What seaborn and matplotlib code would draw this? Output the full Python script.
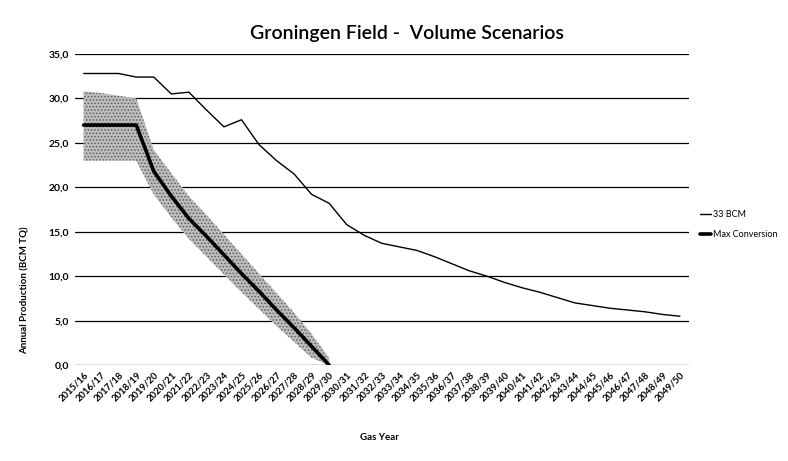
import matplotlib
matplotlib.use("Agg")
import matplotlib.pyplot as plt
import numpy as np
import pandas as pd
import seaborn as sns

# gas years on the x axis
gas_years = ["2015/16", "2016/17", "2017/18", "2018/19", "2019/20", "2020/21", "2021/22",
             "2022/23", "2023/24", "2024/25", "2025/26", "2026/27", "2027/28", "2028/29",
             "2029/30", "2030/31", "2031/32", "2032/33", "2033/34", "2034/35", "2035/36",
             "2036/37", "2037/38", "2038/39", "2039/40", "2040/41", "2041/42", "2042/43",
             "2043/44", "2044/45", "2045/46", "2046/47", "2047/48", "2048/49", "2049/50"]

# 33 BCM scenario
bcm33 = [32.8, 32.8, 32.8, 32.4, 32.4, 30.5, 30.7, 28.7, 26.8, 27.6, 24.8, 23.0,
         21.5, 19.2, 18.2, 15.8, 14.6, 13.7, 13.3, 12.9, 12.2, 11.4, 10.6, 10.0,
         9.3, 8.7, 8.2, 7.6, 7.0, 6.7, 6.4, 6.2, 6.0, 5.7, 5.5]

# max conversion scenario + uncertainty band (first 15 gas years)
max_conv = [27.0, 27.0, 27.0, 27.0, 21.8, 19.0, 16.5, 14.5, 12.4, 10.3, 8.3, 6.2, 4.2, 2.1, 0.0]
band_low = [23.0, 23.0, 23.0, 23.0, 19.2, 16.6, 14.2, 12.2, 10.2, 8.2, 6.3, 4.4, 2.6, 0.8, 0.0]
band_high = [30.8, 30.6, 30.3, 30.0, 24.2, 21.6, 19.0, 16.9, 14.7, 12.5, 10.3, 8.1, 5.9, 3.5, 0.8]

df = pd.DataFrame({"idx": range(len(gas_years)), "year": gas_years, "bcm33": bcm33})
mc = pd.DataFrame({"idx": range(len(max_conv)), "mc": max_conv, "lo": band_low, "hi": band_high})

sns.set_style("white")
plt.rcParams["font.family"] = ["Lato", "DejaVu Sans"]
plt.rcParams["text.color"] = "black"
plt.rcParams["xtick.color"] = "black"
plt.rcParams["ytick.color"] = "black"
plt.rcParams["hatch.linewidth"] = 0.7

fig = plt.figure(figsize=(7.88, 4.61), dpi=100)
ax = fig.add_axes([0.095, 0.208, 0.779, 0.675])

ax.fill_between(mc["idx"], mc["lo"], mc["hi"], facecolor="#bdbdbd", edgecolor="#5e5e5e",
                hatch=".....", lw=0, zorder=2)
sns.lineplot(data=df, x="idx", y="bcm33", ax=ax, color="black", lw=1.0, zorder=3, label="33 BCM")
sns.lineplot(data=mc, x="idx", y="mc", ax=ax, color="black", lw=2.6, zorder=4, label="Max Conversion")

ax.set_xlim(-0.5, len(gas_years) - 0.5)
ax.set_ylim(0, 35)
ax.set_yticks(np.arange(0, 36, 5))
ax.set_yticklabels([f"{v:.1f}".replace(".", ",") for v in np.arange(0, 36, 5)],
                   fontsize=7.5, fontweight="bold")
ax.set_xticks(range(len(gas_years)))
ax.set_xticklabels(gas_years, rotation=45, ha="right", rotation_mode="anchor",
                   fontsize=6.8, fontweight="bold")
ax.tick_params(axis="both", length=0, pad=4)
ax.yaxis.grid(True, color="black", lw=0.9)
ax.xaxis.grid(False)
for s in ax.spines.values():
    s.set_visible(False)
ax.set_xlabel("")
ax.set_ylabel("")

fig.text(0.517, 0.928, "Groningen Field -  Volume Scenarios", ha="center", va="center",
         fontsize=14, fontweight="semibold")
fig.text(0.482, 0.05, "Gas Year", ha="center", va="center", fontsize=7, fontweight="bold")
fig.text(0.032, 0.37, "Annual Production (BCM TQ)", ha="center", va="center", rotation=90,
         fontsize=7, fontweight="bold")

handles, labels = ax.get_legend_handles_labels()
ax.legend_.remove()
fig.legend(handles, labels, loc="upper left", bbox_to_anchor=(0.888, 0.545), frameon=False,
           fontsize=6.5, handlelength=1.3, handletextpad=0.2, labelspacing=1.3,
           borderaxespad=0, borderpad=0)

fig.savefig("out.png", dpi=100)
